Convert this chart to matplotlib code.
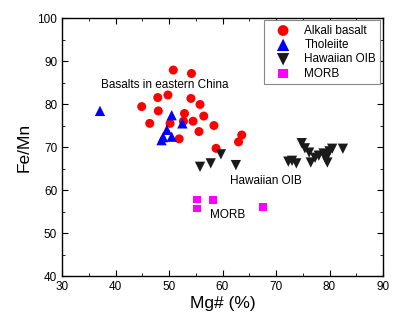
import matplotlib
matplotlib.use('Agg')
import matplotlib.pyplot as plt
from matplotlib.ticker import MultipleLocator

plt.rcParams['font.family'] = ['Liberation Sans', 'DejaVu Sans']

# Alkali basalt (Mg#, Fe/Mn)
alk_mg = [50.8, 54.2, 49.8, 47.9, 54.1, 44.9, 48.0, 55.8, 52.9, 56.5,
          46.4, 50.2, 52.7, 54.5, 58.4, 55.6, 51.9, 58.8, 63.6, 63.0]
alk_fm = [87.9, 87.1, 82.1, 81.5, 81.3, 79.4, 78.4, 79.9, 77.8, 77.2,
          75.5, 75.5, 76.0, 76.0, 75.0, 73.6, 71.9, 69.7, 72.8, 71.2]

# Tholeiite
tho_mg = [37.1, 50.5, 52.5, 49.6, 50.5, 48.6, 48.9]
tho_fm = [78.4, 77.4, 75.5, 74.0, 72.4, 71.6, 72.3]

# Hawaiian OIB
oib_mg = [55.8, 57.8, 59.7, 62.5, 72.3, 73.0, 73.8, 74.8, 75.4, 76.2,
          76.5, 77.3, 78.0, 78.9, 79.3, 79.6, 80.0, 80.5, 82.5, 79.5]
oib_fm = [65.4, 66.2, 68.3, 65.8, 66.6, 66.8, 66.2, 70.9, 69.7, 68.7,
          66.4, 67.5, 68.0, 68.5, 67.2, 66.4, 69.0, 69.6, 69.6, 68.0]

# MORB
morb_mg = [55.2, 55.2, 58.3, 67.6]
morb_fm = [57.8, 55.7, 57.7, 56.0]

fig = plt.figure(figsize=(4.0, 3.31), dpi=100)
ax = fig.add_axes([0.155, 0.166, 0.8025, 0.7796])

ax.scatter(alk_mg, alk_fm, s=42, marker='o', color='#ff0000', edgecolors='none', label='Alkali basalt', zorder=3)
ax.scatter(tho_mg, tho_fm, s=55, marker='^', color='#0000ff', edgecolors='none', label='Tholeiite', zorder=3)
ax.scatter(oib_mg, oib_fm, s=55, marker='v', color='#1a1a1a', edgecolors='none', label='Hawaiian OIB', zorder=3)
ax.scatter(morb_mg, morb_fm, s=32, marker='s', color='#ff00ff', edgecolors='none', label='MORB', zorder=3)

ax.text(37.2, 84.4, 'Basalts in eastern China', fontsize=8.5, va='center', ha='left')
ax.text(61.4, 62.1, 'Hawaiian OIB', fontsize=8.5, va='center', ha='left')
ax.text(57.7, 54.2, 'MORB', fontsize=8.5, va='center', ha='left')

ax.set_xlim(30, 90)
ax.set_ylim(40, 100)
ax.xaxis.set_major_locator(MultipleLocator(10))
ax.xaxis.set_minor_locator(MultipleLocator(5))
ax.yaxis.set_major_locator(MultipleLocator(10))
ax.yaxis.set_minor_locator(MultipleLocator(5))
ax.tick_params(which='both', direction='in', top=True, right=True, labelsize=8.5)
ax.tick_params(which='major', length=4)
ax.tick_params(which='minor', length=2.5)
for sp in ax.spines.values():
    sp.set_linewidth(1.0)

ax.set_xlabel('Mg# (%)', fontsize=12.5, labelpad=2)
ax.set_ylabel('Fe/Mn', fontsize=12.5, labelpad=4)

leg = ax.legend(loc='upper right', bbox_to_anchor=(0.995, 0.995), fontsize=8.5,
                fancybox=False, edgecolor='#888888', framealpha=1,
                handletextpad=0.5, borderpad=0.35, labelspacing=0.2,
                handlelength=2.6, borderaxespad=0.1,
                markerscale=1.2, scatterpoints=1)
leg.get_frame().set_linewidth(0.8)

fig.savefig('out.png', dpi=100)
